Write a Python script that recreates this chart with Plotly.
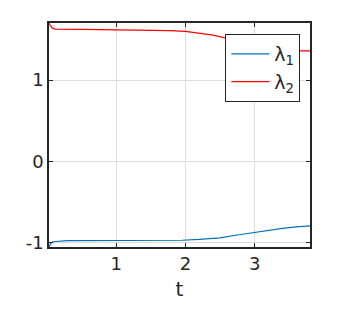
import plotly.graph_objects as go

# lambda_1 (blue) and lambda_2 (red) eigenvalue estimates over t
t1 = [0.03, 0.05, 0.08, 0.12, 0.30, 1.0, 1.5, 1.95, 2.2, 2.5, 2.75, 3.0, 3.2, 3.4, 3.6, 3.8]
lam1 = [-1.058, -1.02, -0.997, -0.99, -0.98, -0.978, -0.977, -0.975, -0.965, -0.945, -0.91, -0.875, -0.85, -0.828, -0.81, -0.797]

t2 = [0.03, 0.05, 0.08, 0.12, 0.5, 1.0, 1.5, 1.78, 2.0, 2.21, 2.4, 2.57, 2.8, 3.0, 3.2, 3.4, 3.6, 3.8]
lam2 = [1.704, 1.67, 1.64, 1.628, 1.625, 1.62, 1.615, 1.61, 1.60, 1.58, 1.555, 1.52, 1.47, 1.42, 1.39, 1.37, 1.36, 1.36]

x_ticks = [1, 2, 3]
y_ticks = [-1, 0, 1]

font_col = "#262626"
fig = go.Figure()
fig.add_trace(go.Scatter(x=t1, y=lam1, mode="lines", name="λ<sub>1</sub>",
                         line=dict(color="#0072BD", width=1.2)))
fig.add_trace(go.Scatter(x=t2, y=lam2, mode="lines", name="λ<sub>2</sub>",
                         line=dict(color="#FF0000", width=1.2)))

axis_common = dict(showline=True, linecolor=font_col, linewidth=1.5, mirror="ticks",
                   ticks="inside", ticklen=4, tickcolor=font_col,
                   showgrid=True, gridcolor="#dcdcdc", gridwidth=1, zeroline=False,
                   tickfont=dict(family="DejaVu Sans", size=18, color=font_col))

fig.update_layout(
    width=342, height=309,
    margin=dict(l=49, r=32, t=23, b=62),
    paper_bgcolor="white", plot_bgcolor="white",
    xaxis=dict(range=[0.03, 3.8], tickvals=x_ticks,
               title=dict(text="t", font=dict(family="DejaVu Sans", size=20, color=font_col), standoff=9),
               **axis_common),
    yaxis=dict(range=[-1.058, 1.704], tickvals=y_ticks, ticktext=["-1", "0", "1"],
               **axis_common),
    legend=dict(x=0.963, y=0.951, xanchor="right", yanchor="top",
                bgcolor="white", bordercolor=font_col, borderwidth=1,
                font=dict(family="DejaVu Sans", size=19, color=font_col),
                tracegroupgap=0, itemwidth=38),
    showlegend=True,
)

fig.write_html("out.html")
